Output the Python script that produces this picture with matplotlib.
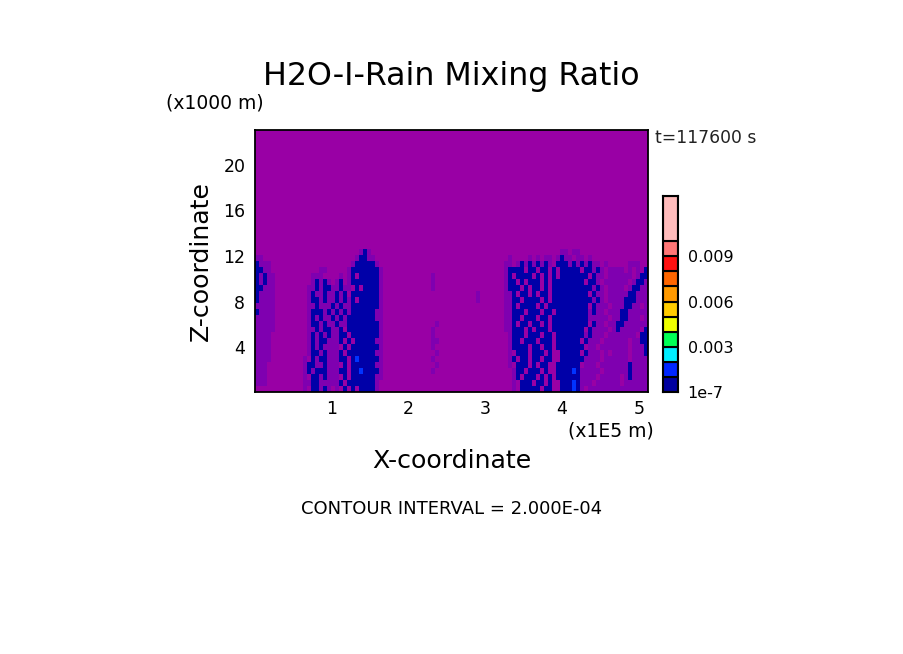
import numpy as np
import matplotlib
matplotlib.use("Agg")
from matplotlib import pyplot as plt
from matplotlib.colors import ListedColormap

# field, top row first, z from about 12.6 down to 0
# . = background, - = lighter purple, # = navy, * = blue
field_rows = [
    ".......... .......... ......-#-. .......... .......... .......... .......... ......--.- -......... ........",
    "--........ .......... .....-##-- .......... .......... .......... ...-....-. -.--.-#--. --.-...... ........",
    "#---...... .......... ....-##### -......... .......... .......... ..--.-#-#- #-#-.###-# -#-#--.-.. ...---..",
    "##--...... ......--.. ...-###### #-........ .......... .......... ..-####.## .##.#.#### #.##-#-.-- --.-.-.#",
    "#-#--..... ....---... .-.-#.#### #-........ ....-..... .......... ..-#.####. #.#.#.#### ###.#--.-- ----.-##",
    "#-#--..... ....-#-#-. -#.-###### #-........ ....-..... .......... ..-##.#.## #.#.###### ##.##-.--- ---.-##-",
    "##---..... ...--#-##- -#--.#.### #-........ ....-..... .......... ..-###.#.# #.#.###### ####-#-.-- --.-##--",
    "#----..... ...-#--#-- #-#.###### #-........ .......... .....-.... ..--#.##.# .##.###### ###.#--.-- ---##---",
    "#----..... ...-##-#-- #-#-#.#### #-........ .......... .....-.... ..--##.### #.#.###### ####-#-.-- --###---",
    "-----..... ...--#---# -#--###### #-........ .......... .......... ..--#.#### .#.####### ###.#---.- --##--.-",
    "#----..... ...-###-#- #-#-###### --........ .......... .......... ..--###.## #.##.##### ###-#--.-- -##-----",
    "-----..... ...-#-#--# -#-####### --........ .......... .......... ..--##.### .##.###### ###-----.- -##---.-",
    "-----..... ...-##-#-- #--####### #-........ .....-.... .......... ..--#.##.# #.#.###### ###.#--.-- ##------",
    "-----..... ...--#-##- -#.####### #-........ ....-..... .......... ..--###.#. ###.###### ##.#----.- #-----.#",
    "----...... ...-#-#-#- -##.###### #-........ ....-..... .......... ...-###.## #.##.##### ##-#---.-- -----.##",
    "----...... ...-#-##-- -#.#.##### --........ ....--.... .......... ...-##.### .###.##### #.#---.--- ---.--##",
    "----...... ...-#-#--- -.#.###### #-........ ....-..... .......... ...-####.# #.##.##### ##.--.---- ---.---#",
    "----...... ...-##-#-- -#.####### --........ .....-.... .......... ...-.###.# ##.#..#### #.#---.-.- ---.---#",
    "----...... ..-.#-##-- -##.#*#### #-........ ....-..... .......... ...-#.##.# #.##..#### ##----.--- ---.----",
    "---....... ..-##--#-- -.#.###### --........ .....-.... .......... ...-.###.# .##..##### #.---.---- ---#----",
    "---....... ..-#-###-- -##.##*### #-........ ....-..... .......... ....-##.## #.#..####* #-----.--- ---#----",
    "---....... ..-.##-#-- -.#.###### --........ .......... .......... ....-#.### .#.#.##### #----.---- -.-#----",
    "---....... ..--##---- -#.####### -......... .......... .......... ....-.###. ##.#..###* #---.----- -.------",
    ".......... ..-.##-#-. -.#.#.#### -......... .......... .......... ....-.#### #.##..###* #-.------- --------",
]

level_chars = ".-#*"
field_colors = ["#9900a5", "#7f00b0", "#0000a8", "#0033ff"]

x_ticks = [1, 2, 3, 4, 5]
z_ticks = [4, 8, 12, 16, 20]
x_range = [0.0, 5.12]
z_range = [0.05, 23.07]
z_field_top = 12.6

bar_colors = ["#0000a0", "#0026ff", "#00eeff", "#00ff55", "#eeff00", "#ffcc00",
              "#ff9900", "#ff6600", "#ff1111", "#ff7777", "#ffbbbb"]
bar_levels = [0, 0.001, 0.002, 0.003, 0.004, 0.005, 0.006, 0.007, 0.008, 0.009, 0.010, 0.013]
bar_ticks = [0, 0.003, 0.006, 0.009]
bar_labels = ["1e-7", "0.003", "0.006", "0.009"]

W, H = 904, 654

def box(x0, y0, x1, y1):
    # pixel box, y counted from the top
    return [x0 / W, 1 - y1 / H, (x1 - x0) / W, (y1 - y0) / H]

def label(x, y, s, size, **kw):
    fig.text(x / W, 1 - y / H, s, fontsize=size, va="center", **kw)

fig = plt.figure(figsize=(W / 100, H / 100), dpi=100)

ax = fig.add_axes(box(255, 130, 648, 392))
rows = [r.replace(" ", "").ljust(98, ".")[:98] for r in field_rows]
grid = np.array([[level_chars.index(c) for c in r] for r in rows])[::-1]
xe = np.linspace(x_range[0], x_range[1], grid.shape[1] + 1)
ze = np.linspace(z_range[0], z_field_top, grid.shape[0] + 1)
ax.set_facecolor(field_colors[0])
ax.pcolormesh(xe, ze, grid, cmap=ListedColormap(field_colors), vmin=-0.5, vmax=3.5)
ax.set_xlim(x_range)
ax.set_ylim(z_range)
ax.set_xticks(x_ticks)
ax.set_yticks(z_ticks)
ax.tick_params(length=0, labelsize=12.5)
ax.tick_params(axis="x", pad=6)
ax.tick_params(axis="y", pad=7)
for s in ax.spines.values():
    s.set_linewidth(1.3)

cax = fig.add_axes(box(663, 196, 678, 392))
for i, c in enumerate(bar_colors):
    cax.axhspan(bar_levels[i], bar_levels[i + 1], color=c, ec="black", lw=1.5)
cax.set_ylim(bar_levels[0], bar_levels[-1])
cax.set_xticks([])
cax.yaxis.tick_right()
cax.set_yticks(bar_ticks)
cax.set_yticklabels(bar_labels)
cax.tick_params(length=0, labelsize=11.5, pad=7)
for s in cax.spines.values():
    s.set_linewidth(1.5)

label(451, 76, "H2O-I-Rain Mixing Ratio", 22.8, ha="center")
label(215, 103, "(x1000 m)", 13.5, ha="center")
label(611, 431, "(x1E5 m)", 13.5, ha="center")
label(452, 461, "X-coordinate", 18.2, ha="center")
label(452, 509, "CONTOUR INTERVAL = 2.000E-04", 13, ha="center")
label(706, 138, "t=117600 s", 12.3, ha="center", color="#222222")
fig.text(201 / W, 1 - 261 / H, "Z-coordinate", fontsize=18.2, rotation=90, ha="center", va="center")

fig.savefig("out.png", dpi=100)
